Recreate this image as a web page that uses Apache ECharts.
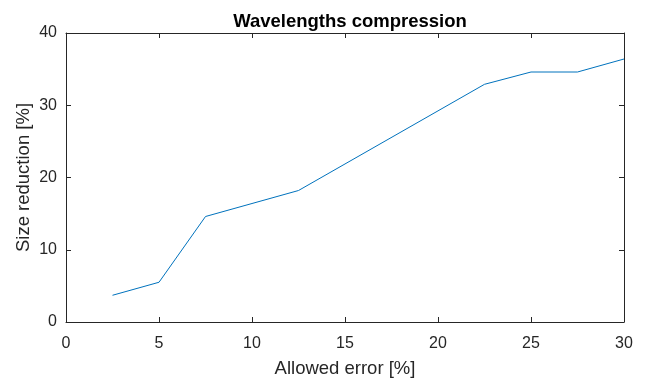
<!DOCTYPE html>
<html>
<head>
<meta charset="utf-8">
<script src="https://cdn.jsdelivr.net/npm/echarts@6/dist/echarts.min.js"></script>
<style>
  html, body { margin: 0; padding: 0; background: #fff; }
  #chart { width: 648px; height: 383px; }
</style>
</head>
<body>
<div id="chart"></div>
<script>
// Allowed error [%] and the resulting size reduction [%]
const allowedError = [2.5, 5, 7.5, 12.5, 22.5, 25, 27.5, 30];
const sizeReduction = [3.7, 5.5, 14.6, 18.2, 32.9, 34.6, 34.6, 36.4];
const xTicks = [0, 5, 10, 15, 20, 25, 30];
const yTicks = [0, 10, 20, 30, 40];

const FONT = '"Liberation Sans", Arial, Helvetica, sans-serif';
const AXIS_COLOR = '#262626';

const chart = echarts.init(document.getElementById('chart'), null, { renderer: 'canvas' });

// Shared look for the four sides of the box: thin dark line, short inward ticks
function boxAxis(extra) {
  return Object.assign({
    type: 'value',
    axisLine: { show: true, onZero: false, lineStyle: { color: AXIS_COLOR, width: 1 } },
    axisTick: { show: true, inside: true, length: 5, lineStyle: { color: AXIS_COLOR, width: 1 } },
    splitLine: { show: false }
  }, extra);
}

chart.setOption({
  animation: false,
  backgroundColor: '#ffffff',
  title: {
    text: 'Wavelengths compression',
    left: 345,
    textAlign: 'center',
    top: 7,
    textStyle: { fontFamily: FONT, fontWeight: 'bold', fontSize: 18.5, color: '#000' }
  },
  grid: { left: 66, right: 24, top: 33, bottom: 58, containLabel: false },
  xAxis: [
    boxAxis({
      min: xTicks[0], max: xTicks[xTicks.length - 1], interval: 5,
      position: 'bottom',
      name: 'Allowed error [%]',
      nameLocation: 'middle',
      nameGap: 37,
      nameMoveOverlap: false,
      nameTextStyle: { fontFamily: FONT, fontSize: 18.5, color: AXIS_COLOR },
      axisLabel: { fontFamily: FONT, fontSize: 16, color: AXIS_COLOR, margin: 14 }
    }),
    boxAxis({
      min: xTicks[0], max: xTicks[xTicks.length - 1], interval: 5,
      position: 'top',
      axisLabel: { show: false }
    })
  ],
  yAxis: [
    boxAxis({
      min: yTicks[0], max: yTicks[yTicks.length - 1], interval: 10,
      position: 'left',
      name: 'Size reduction [%]',
      nameLocation: 'middle',
      nameGap: 33,
      nameMoveOverlap: false,
      nameTextStyle: { fontFamily: FONT, fontSize: 18.5, color: AXIS_COLOR },
      axisLabel: { fontFamily: FONT, fontSize: 16, color: AXIS_COLOR, margin: 9 }
    }),
    boxAxis({
      min: yTicks[0], max: yTicks[yTicks.length - 1], interval: 10,
      position: 'right',
      axisLabel: { show: false }
    })
  ],
  series: [{
    type: 'line',
    xAxisIndex: 0,
    yAxisIndex: 0,
    data: allowedError.map((x, i) => [x, sizeReduction[i]]),
    showSymbol: false,
    lineStyle: { color: '#0072BD', width: 1 },
    itemStyle: { color: '#0072BD' }
  }]
});
</script>
</body>
</html>
